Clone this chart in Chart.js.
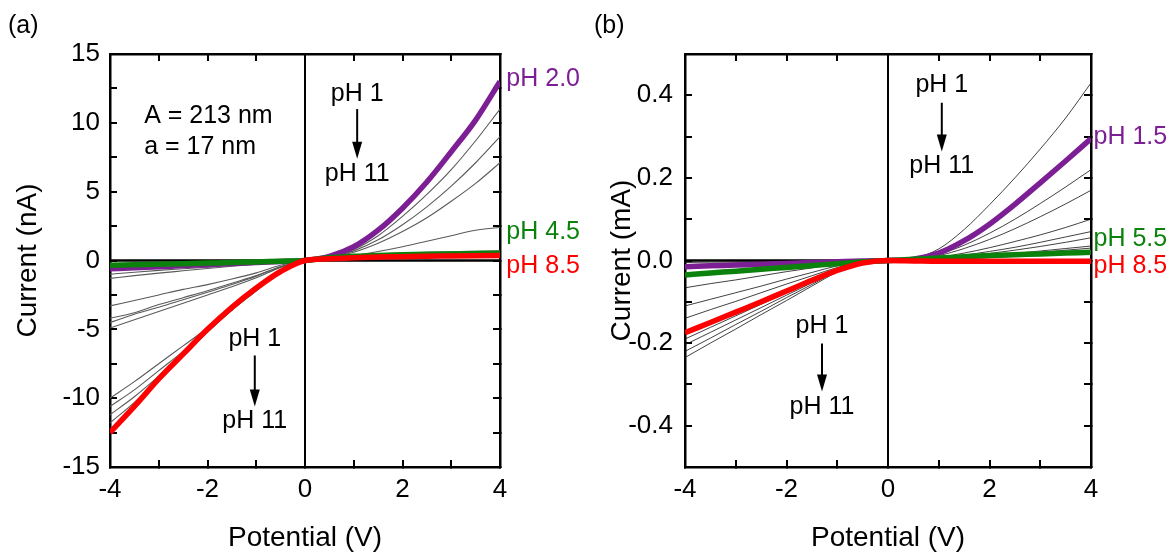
<!DOCTYPE html>
<html>
<head>
<meta charset="utf-8">
<script src="https://cdn.jsdelivr.net/npm/chart.js@4.4.1/dist/chart.umd.min.js"></script>
<style>
  html, body { margin: 0; padding: 0; background: #fff; }
  #wrap { position: relative; width: 1172px; height: 552px; }
  canvas { position: absolute; top: 0; }
</style>
</head>
<body>
<div id="wrap">
  <canvas id="chartA" width="586" height="552" style="left:0"></canvas>
  <canvas id="chartB" width="586" height="552" style="left:586px"></canvas>
</div>
<script>
// shared x values (V)
const potential = [-4, -3.5, -3, -2.5, -2, -1.5, -1, -0.5, 0, 0.5, 1, 1.5, 2, 2.5, 3, 3.5, 4];

// panel (a), current in nA
const aPH20 = [-0.6, -0.52, -0.45, -0.37, -0.3, -0.22, -0.15, -0.07, 0, 0.3, 1.0, 2.2, 3.8, 5.7, 7.9, 10.2, 13.0];
const aPH45 = [-0.35, -0.31, -0.27, -0.23, -0.19, -0.15, -0.1, -0.05, 0, 0.2, 0.3, 0.36, 0.41, 0.45, 0.48, 0.5, 0.52];
const aPH85 = [-12.5, -10.6, -8.6, -6.8, -5.0, -3.4, -2.0, -0.8, 0, 0.12, 0.2, 0.25, 0.28, 0.31, 0.33, 0.35, 0.37];
const aOthers = [
  [-1.0, -0.85, -0.72, -0.6, -0.48, -0.36, -0.24, -0.1, 0, 0.25, 0.8, 1.8, 3.2, 4.8, 6.6, 8.7, 11.0],
  [-3.3, -2.9, -2.5, -2.1, -1.75, -1.35, -0.9, -0.35, 0, 0.22, 0.7, 1.5, 2.6, 3.9, 5.4, 7.1, 9.0],
  [-4.2, -3.8, -3.2, -2.7, -2.2, -1.65, -1.1, -0.45, 0, 0.2, 0.6, 1.25, 2.1, 3.1, 4.3, 5.6, 7.1],
  [-4.9, -4.3, -3.7, -3.1, -2.5, -1.9, -1.25, -0.5, 0, 0.12, 0.35, 0.65, 1.0, 1.4, 1.8, 2.2, 2.4],
  [-10.0, -8.8, -7.5, -6.2, -4.9, -3.5, -2.1, -0.8, 0, 0.25, 0.4, 0.48, 0.55, 0.6, 0.64, 0.67, 0.7],
  [-10.6, -9.4, -8.0, -6.6, -5.1, -3.6, -2.2, -0.8, 0, 0.2, 0.35, 0.43, 0.49, 0.53, 0.56, 0.58, 0.6],
  [-11.2, -9.9, -8.4, -6.8, -5.2, -3.6, -2.2, -0.85, 0, 0.18, 0.3, 0.37, 0.42, 0.46, 0.49, 0.51, 0.53],
  [-11.8, -10.3, -8.6, -6.9, -5.2, -3.6, -2.1, -0.8, 0, 0.15, 0.27, 0.34, 0.39, 0.43, 0.46, 0.48, 0.5],
  [-1.3, -1.1, -0.92, -0.75, -0.58, -0.42, -0.27, -0.12, 0, 0.14, 0.25, 0.32, 0.37, 0.4, 0.43, 0.45, 0.47],
  [-4.5, -3.9, -3.4, -2.85, -2.3, -1.75, -1.15, -0.45, 0, 0.16, 0.3, 0.4, 0.47, 0.52, 0.56, 0.6, 0.63]
];

// panel (b), current in mA
const bPH15 = [-0.015, -0.013, -0.011, -0.009, -0.007, -0.005, -0.003, -0.001, 0, 0.003, 0.018, 0.048, 0.088, 0.136, 0.188, 0.241, 0.295];
const bPH55 = [-0.035, -0.03, -0.026, -0.021, -0.017, -0.012, -0.008, -0.003, 0, 0.003, 0.006, 0.009, 0.012, 0.014, 0.016, 0.018, 0.02];
const bPH85 = [-0.175, -0.15, -0.125, -0.1, -0.074, -0.048, -0.024, -0.006, 0, -0.001, -0.002, -0.002, -0.002, -0.002, -0.002, -0.002, -0.002];
const bOthers = [
  [-0.005, -0.004, -0.004, -0.003, -0.002, -0.002, -0.001, 0, 0, 0.005, 0.028, 0.075, 0.135, 0.2, 0.27, 0.345, 0.43],
  [-0.01, -0.009, -0.007, -0.006, -0.004, -0.003, -0.002, -0.001, 0, 0.003, 0.015, 0.037, 0.066, 0.1, 0.138, 0.178, 0.22],
  [-0.066, -0.056, -0.047, -0.037, -0.027, -0.018, -0.008, -0.002, 0, 0.003, 0.012, 0.029, 0.051, 0.077, 0.106, 0.137, 0.17],
  [-0.11, -0.094, -0.078, -0.062, -0.045, -0.029, -0.013, -0.002, 0, 0.002, 0.008, 0.018, 0.031, 0.046, 0.062, 0.08, 0.1],
  [-0.14, -0.119, -0.099, -0.078, -0.057, -0.037, -0.017, -0.003, 0, 0.002, 0.006, 0.013, 0.022, 0.032, 0.044, 0.057, 0.07],
  [-0.19, -0.162, -0.134, -0.106, -0.078, -0.05, -0.022, -0.003, 0, 0.002, 0.005, 0.01, 0.017, 0.025, 0.034, 0.044, 0.055],
  [-0.204, -0.174, -0.144, -0.114, -0.084, -0.054, -0.024, -0.004, 0, 0.001, 0.003, 0.007, 0.012, 0.017, 0.023, 0.029, 0.035],
  [-0.22, -0.188, -0.155, -0.123, -0.09, -0.058, -0.026, -0.004, 0, 0.001, 0.003, 0.006, 0.01, 0.015, 0.02, 0.025, 0.03],
  [-0.235, -0.2, -0.166, -0.131, -0.097, -0.062, -0.028, -0.004, 0, 0.001, 0.002, 0.004, 0.007, 0.01, 0.013, 0.017, 0.02]
];

const FONT = "'Liberation Sans', Arial, sans-serif";
const PURPLE = '#7d1f94';
const GREEN = '#0b820b';
const RED = '#ff0000';
Chart.defaults.font.family = FONT;
Chart.defaults.color = '#000';

function toPoints(ys) {
  return potential.map((x, i) => ({ x: x, y: ys[i] }));
}

function curve(ys, color, width) {
  return {
    data: toPoints(ys), borderColor: color, borderWidth: width,
    pointRadius: 0, cubicInterpolationMode: 'monotone', fill: false
  };
}

function zeroLines(yMin, yMax) {
  return [
    { data: [{ x: 0, y: yMin }, { x: 0, y: yMax }], borderColor: '#000', borderWidth: 2, pointRadius: 0 },
    { data: [{ x: -4, y: 0 }, { x: 4, y: 0 }], borderColor: '#000', borderWidth: 2.5, pointRadius: 0 }
  ];
}

// inward tick marks on all four sides
function frame(o) {
  const tickGrid = { drawOnChartArea: false, drawTicks: true, tickLength: -7, color: '#000', lineWidth: 2 };
  const border = { display: true, color: '#000', width: 2.5 };
  return {
    x: {
      type: 'linear', position: 'bottom', min: -4, max: 4,
      ticks: { stepSize: 1, autoSkip: false, maxRotation: 0, padding: 14, font: { size: 26 },
        callback: v => (v % 2 === 0 ? String(v) : '') },
      grid: tickGrid, border: border,
      title: { display: true, text: 'Potential (V)', font: { size: 28, lineHeight: 1 }, padding: { top: 0, bottom: 0 } },
      afterFit: s => { s.height = 85; }
    },
    x2: {
      type: 'linear', position: 'top', min: -4, max: 4,
      ticks: { stepSize: 1, autoSkip: false, display: false },
      grid: tickGrid, border: border,
      afterFit: s => { s.height = 0; }
    },
    y: {
      type: 'linear', position: 'left', min: o.yMin, max: o.yMax,
      ticks: { stepSize: o.yStep, autoSkip: false, padding: o.tickPad, font: { size: 26 }, callback: o.yLabel },
      grid: tickGrid, border: border,
      title: { display: true, text: o.yTitle, font: { size: 28, lineHeight: 1 }, padding: { top: o.titlePad, bottom: 0 } },
      afterFit: s => { s.width = o.yWidth; }
    },
    y2: {
      type: 'linear', position: 'right', min: o.yMin, max: o.yMax,
      ticks: { stepSize: o.yStep, autoSkip: false, display: false },
      grid: tickGrid, border: border,
      afterFit: s => { s.width = 0; }
    }
  };
}

const notes = {
  id: 'notes',
  afterDraw(chart, args, opts) {
    const ctx = chart.ctx;
    const xs = chart.scales.x, ys = chart.scales.y;
    ctx.save();
    ctx.textBaseline = 'middle';
    opts.texts.forEach(t => {
      ctx.font = '25px ' + FONT;
      ctx.fillStyle = t.color || '#000';
      ctx.textAlign = t.align || 'center';
      ctx.fillText(t.text, xs.getPixelForValue(t.x), ys.getPixelForValue(t.y));
    });
    opts.arrows.forEach(a => {
      const px = xs.getPixelForValue(a.x);
      const p1 = ys.getPixelForValue(a.from), p2 = ys.getPixelForValue(a.to);
      ctx.strokeStyle = '#000';
      ctx.fillStyle = '#000';
      ctx.lineWidth = 2;
      ctx.beginPath();
      ctx.moveTo(px, p1);
      ctx.lineTo(px, p2 - 14);
      ctx.stroke();
      ctx.beginPath();
      ctx.moveTo(px - 5, p2 - 17);
      ctx.lineTo(px + 5, p2 - 17);
      ctx.lineTo(px, p2);
      ctx.closePath();
      ctx.fill();
    });
    ctx.font = '25px ' + FONT;
    ctx.fillStyle = '#000';
    ctx.textAlign = 'left';
    ctx.fillText(opts.panel, opts.panelX, 26);
    ctx.restore();
  }
};

new Chart(document.getElementById('chartA'), {
  type: 'line',
  data: {
    datasets: [
      curve(aPH85, RED, 5.5),
      curve(aPH45, GREEN, 5.5),
      curve(aPH20, PURPLE, 5.5),
      ...zeroLines(-15, 15),
      ...aOthers.map(ys => curve(ys, '#5a5a5a', 1.1))
    ]
  },
  options: {
    responsive: false, animation: false,
    layout: { padding: { top: 54, right: 86, left: 0, bottom: 0 } },
    plugins: {
      legend: { display: false }, tooltip: { enabled: false },
      notes: {
        panel: '(a)', panelX: 8,
        texts: [
          { text: 'A = 213 nm', x: -3.3, y: 10.5, align: 'left' },
          { text: 'a = 17 nm', x: -3.3, y: 8.25, align: 'left' },
          { text: 'pH 1', x: 1.07, y: 12.1 },
          { text: 'pH 11', x: 1.07, y: 6.3 },
          { text: 'pH 1', x: -1.03, y: -5.7 },
          { text: 'pH 11', x: -1.03, y: -11.65 },
          { text: 'pH 2.0', x: 4.13, y: 13.2, align: 'left', color: PURPLE },
          { text: 'pH 4.5', x: 4.13, y: 2.07, align: 'left', color: GREEN },
          { text: 'pH 8.5', x: 4.13, y: -0.4, align: 'left', color: RED }
        ],
        arrows: [
          { x: 1.07, from: 11.0, to: 7.4 },
          { x: -1.03, from: -6.9, to: -10.6 }
        ]
      }
    },
    scales: frame({
      yMin: -15, yMax: 15, yStep: 2.5, yWidth: 110, tickPad: 17, titlePad: 14,
      yTitle: 'Current (nA)',
      yLabel: v => (v % 5 === 0 ? String(v) : '')
    })
  },
  plugins: [notes]
});

new Chart(document.getElementById('chartB'), {
  type: 'line',
  data: {
    datasets: [
      curve(bPH85, RED, 5.5),
      curve(bPH55, GREEN, 5.5),
      curve(bPH15, PURPLE, 5.5),
      ...zeroLines(-0.5, 0.5),
      ...bOthers.map(ys => curve(ys, '#111111', 0.8))
    ]
  },
  options: {
    responsive: false, animation: false,
    layout: { padding: { top: 54, right: 81, left: 0, bottom: 0 } },
    plugins: {
      legend: { display: false }, tooltip: { enabled: false },
      notes: {
        panel: '(b)', panelX: 8,
        texts: [
          { text: 'pH 1', x: 1.06, y: 0.425 },
          { text: 'pH 11', x: 1.06, y: 0.228 },
          { text: 'pH 1', x: -1.3, y: -0.158 },
          { text: 'pH 11', x: -1.3, y: -0.355 },
          { text: 'pH 1.5', x: 4.05, y: 0.298, align: 'left', color: PURPLE },
          { text: 'pH 5.5', x: 4.05, y: 0.052, align: 'left', color: GREEN },
          { text: 'pH 8.5', x: 4.05, y: -0.013, align: 'left', color: RED }
        ],
        arrows: [
          { x: 1.06, from: 0.382, to: 0.264 },
          { x: -1.3, from: -0.201, to: -0.317 }
        ]
      }
    },
    scales: frame({
      yMin: -0.5, yMax: 0.5, yStep: 0.1, yWidth: 99, tickPad: 19, titlePad: 22,
      yTitle: 'Current (mA)',
      yLabel: v => {
        const k = Math.round(v * 10);
        return (k % 2 === 0 && Math.abs(k) < 5) ? (k / 10).toFixed(1) : '';
      }
    })
  },
  plugins: [notes]
});
</script>
</body>
</html>
